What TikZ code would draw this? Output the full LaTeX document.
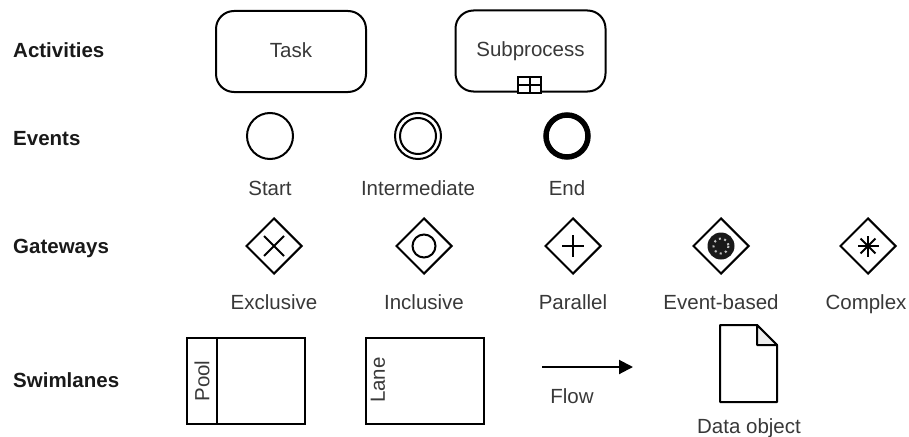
\documentclass[tikz,border=0pt]{standalone}
\usepackage{fontspec}
\setmainfont{Liberation Sans}
\usetikzlibrary{shapes.geometric,arrows.meta,calc}
\begin{document}
\begin{tikzpicture}[x=1pt,y=-1pt,
  lbl/.style={font=\fontsize{20.5}{24}\selectfont\bfseries, text=black!90, anchor=base west, inner sep=0},
  txt/.style={font=\fontsize{20.5}{24}\selectfont, text=black!78, inner sep=0},
  captxt/.style={txt, anchor=base},
  act/.style={draw, line width=2pt, rounded corners=18pt, minimum width=150pt, minimum height=81pt, txt, text height=15pt, text depth=4pt},
  ev/.style={circle, draw, line width=2pt, minimum size=46pt, inner sep=0},
  gw/.style={diamond, draw, line width=2pt, minimum width=56pt, minimum height=56pt, inner sep=0, aspect=1},
  lanebox/.style={draw, line width=2pt, minimum width=118pt, minimum height=86pt, inner sep=0},
  sym/.style={line width=2pt},
]
\useasboundingbox (0,0) rectangle (909,436);

% row labels
\node[lbl] (lact) at (13,58) {Activities};
\node[lbl] (lev) at (13,145) {Events};
\node[lbl] (lgw) at (13,253) {Gateways};
\node[lbl] (lsw) at (13,387) {Swimlanes};

% activities
\node[act] (task) at (291,51.5) {Task};
\node[act] (sub) at (530.5,51) {Subprocess};
\draw[line width=2pt, fill=white] (518,77) rectangle (541,93);
\draw[line width=2pt] (529.5,77) -- (529.5,93) (518,85) -- (541,85);

% events
\node[ev] (start) at (270,136) {};
\node[ev] (inter) at (418,136) {};
\node[circle, draw, line width=2pt, minimum size=36pt, inner sep=0] (interin) at (inter) {};
\node[circle, draw, line width=5.5pt, minimum size=42pt, inner sep=0] (end) at (567,136) {};
\node[captxt] (tstart) at (270,195.5) {Start};
\node[captxt] (tinter) at (418,195.5) {Intermediate};
\node[captxt] (tend) at (567,195.5) {End};

% gateways
\node[gw] (gx) at (274,246) {};
\node[gw] (gi) at (424,246) {};
\node[gw] (gp) at (573,246) {};
\node[gw] (ge) at (721,246) {};
\node[gw] (gc) at (868,246) {};
\draw[sym] ($(gx)+(-10,-10)$) -- ($(gx)+(10,10)$) ($(gx)+(-10,10)$) -- ($(gx)+(10,-10)$);
\draw[sym] (gi) circle[radius=11.5];
\draw[sym] ($(gp)+(-11,0)$) -- ($(gp)+(11,0)$) ($(gp)+(0,-11)$) -- ($(gp)+(0,11)$);
\fill[black!90] (ge) circle[radius=13.5];
\draw[black!25, line width=2pt, dash pattern=on 2pt off 3.5pt] (ge) circle[radius=7.5];
\foreach \a in {0,45,90,135}
  \draw[sym] ($(gc)+(\a:10.5)$) -- ($(gc)+(\a+180:10.5)$);
\node[captxt] (tgx) at (274,309.5) {Exclusive};
\node[captxt] (tgi) at (424,309.5) {Inclusive};
\node[captxt] (tgp) at (573,309.5) {Parallel};
\node[captxt] (tge) at (721,309.5) {Event-based};
\node[captxt] (tgc) at (866,309.5) {Complex};

% swimlanes
\node[lanebox] (pool) at (246,381) {};
\draw[line width=2pt] (217,337) -- (217,425);
\node[txt, rotate=90] (tpool) at (202,381) {Pool};
\node[lanebox] (lane) at (425,381) {};
\node[txt, rotate=90] (tlane) at (378,380) {Lane};

% flow
\coordinate (fs) at (542,367);
\coordinate (fe) at (633,367);
\draw[line width=2pt, -{Triangle[length=14pt,width=14pt]}] (fs) -- (fe);
\node[captxt] (tflow) at (572,403.5) {Flow};

% data object
\coordinate (d1) at (720,325);
\coordinate (d2) at (757,325);
\coordinate (d3) at (777,345);
\coordinate (d4) at (777,402);
\coordinate (d5) at (720,402);
\draw[line width=2pt, line join=round, fill=white] (d1) -- (d2) -- (d3) -- (d4) -- (d5) -- cycle;
\draw[line width=2pt, line join=round, fill=black!7] (d2) -- (757,345) -- (d3) -- cycle;
\node[captxt] (tdata) at (749,433) {Data object};
\end{tikzpicture}
\end{document}
